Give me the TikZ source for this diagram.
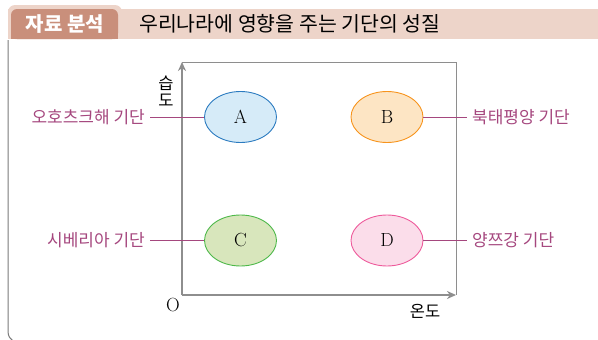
\documentclass[tikz,border=0pt]{standalone}
\usepackage{fontspec}
\newfontfamily\kr{Noto Sans CJK KR}
\usetikzlibrary{shapes.geometric,arrows.meta}
\definecolor{bandc}{HTML}{EDD4C9}
\definecolor{tabc}{HTML}{C98F7B}
\definecolor{axisc}{HTML}{8E8E8E}
\definecolor{framec}{HTML}{7A7A7A}
\definecolor{labc}{HTML}{A5477E}
\definecolor{Afill}{HTML}{D6EBF8}\definecolor{Adraw}{HTML}{2B7BC0}
\definecolor{Bfill}{HTML}{FDE5C4}\definecolor{Bdraw}{HTML}{F7941D}
\definecolor{Cfill}{HTML}{D8E6BC}\definecolor{Cdraw}{HTML}{4DB849}
\definecolor{Dfill}{HTML}{FBDDEA}\definecolor{Ddraw}{HTML}{EE5A9B}
\tikzset{
  mass/.style={ellipse, minimum width=72pt, minimum height=51pt, inner sep=0pt, line width=0.9pt, font=\fontsize{19}{19}\selectfont},
  lab/.style={inner sep=0pt, text=labc, font=\kr\fontsize{17}{17}\selectfont},
  conn/.style={draw=labc, line width=1pt},
  axislab/.style={inner sep=0pt, font=\kr\fontsize{16.5}{17}\selectfont},
  axisline/.style={draw=axisc, line width=1.8pt, -{Stealth[length=9pt,width=8pt]}},
  thinline/.style={draw=axisc, line width=1pt}
}
\begin{document}
\begin{tikzpicture}[x=1pt,y=-1pt]
\useasboundingbox (0,0) rectangle (598,340);
% title band
\fill[bandc] (8,9) rectangle (598,39);
\fill[bandc, rounded corners=7pt] (8,39) -- (8,5) -- (122,5) -- (122,39) -- cycle;
\fill[tabc, rounded corners=6pt] (11,39) -- (11,9) -- (118,9) -- (118,39) -- cycle;
\fill[tabc] (11,30) rectangle (118,39);
\node[inner sep=0pt, text=white, font=\kr\bfseries\fontsize{20}{20}\selectfont] (tab) at (65,24) {자료 분석};
\node[inner sep=0pt, anchor=west, font=\kr\fontsize{20.5}{20.5}\selectfont] (title) at (139,24) {우리나라에 영향을 주는 기단의 성질};
% frame
\draw[framec, line width=1pt] (8,40) -- (8,331) .. controls (8,336) and (10,339) .. (13,341);
% plot box
\coordinate (O) at (182,295);
\coordinate (ytop) at (182,62);
\coordinate (xend) at (456,295);
\coordinate (TR) at (456,62);
\draw[thinline] (ytop) -- (TR) -- (xend);
\draw[axisline] (O) -- (ytop);
\draw[axisline] (O) -- (xend);
\node[axislab, align=center] (ylab) at (166,91) {습\\도};
\node[axislab] (xlab) at (425,311) {온도};
\node[inner sep=0pt, font=\fontsize{19}{19}\selectfont] (olab) at (173,305) {O};
% air masses
\node[mass, fill=Afill, draw=Adraw] (A) at (240.5,117) {A};
\node[mass, fill=Bfill, draw=Bdraw] (B) at (387,117) {B};
\node[mass, fill=Cfill, draw=Cdraw] (C) at (240.5,240.5) {C};
\node[mass, fill=Dfill, draw=Ddraw] (D) at (387,240.5) {D};
% labels
\node[lab, anchor=east] (lA) at (145,117) {오호츠크해 기단};
\node[lab, anchor=west] (lB) at (472,117) {북태평양 기단};
\node[lab, anchor=east] (lC) at (145,240.5) {시베리아 기단};
\node[lab, anchor=west] (lD) at (472,240.5) {양쯔강 기단};
\draw[conn] ([xshift=5pt]lA.east) -- (A.west);
\draw[conn] (B.east) -- ([xshift=-5pt]lB.west);
\draw[conn] ([xshift=5pt]lC.east) -- (C.west);
\draw[conn] (D.east) -- ([xshift=-5pt]lD.west);
\end{tikzpicture}
\end{document}
